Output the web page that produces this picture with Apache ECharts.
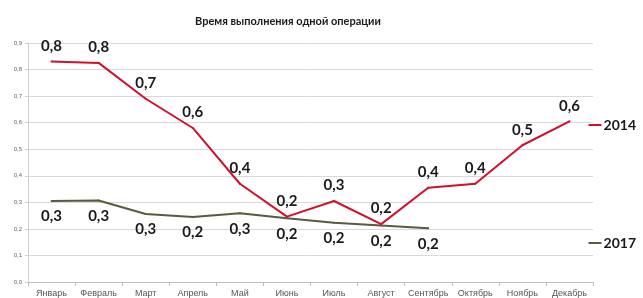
<!DOCTYPE html>
<html><head><meta charset="utf-8">
<script src="https://cdn.jsdelivr.net/npm/echarts@6/dist/echarts.min.js"></script>
<style>html,body{margin:0;padding:0;background:#fff}#c{width:643px;height:298px}</style>
</head><body><div id="c"></div>
<script>
const categories = ['Январь','Февраль','Март','Апрель','Май','Июнь','Июль','Август','Сентябрь','Октябрь','Ноябрь','Декабрь'];
const values2014 = [0.83, 0.825, 0.69, 0.58, 0.37, 0.246, 0.305, 0.218, 0.355, 0.37, 0.515, 0.605];
const values2017 = [0.305, 0.307, 0.256, 0.245, 0.259, 0.24, 0.223, 0.213, 0.202];
const yTicks = [0, 0.1, 0.2, 0.3, 0.4, 0.5, 0.6, 0.7, 0.8, 0.9];
const title = 'Время выполнения одной операции';

const fmt = v => (Math.round(v * 10) / 10).toFixed(1).replace('.', ',');
const labelStyle = {fontFamily: 'Lato', fontWeight: 'bold', fontSize: 15, color: '#1a1a1a'};

const chart = echarts.init(document.getElementById('c'));
chart.setOption({
  animation: false,
  title: {text: title, left: 283, textAlign: 'center', top: 11,
    textStyle: {fontFamily: 'Lato', fontWeight: 'bold', fontSize: 11, color: '#1a1a1a'}},
  grid: {left: 28, right: 50, top: 43, bottom: 16, containLabel: false},
  legend: [
    {data: ['2014'], right: 2, top: 113, itemWidth: 13, itemHeight: 2, itemGap: 2,
      icon: 'rect', textStyle: {fontFamily: 'Lato', fontWeight: 'bold', fontSize: 14, color: '#1a1a1a', padding: [0,0,0,-3]}},
    {data: ['2017'], right: 2, top: 231, itemWidth: 13, itemHeight: 2, itemGap: 2,
      icon: 'rect', textStyle: {fontFamily: 'Lato', fontWeight: 'bold', fontSize: 14, color: '#1a1a1a', padding: [0,0,0,-3]}}
  ],
  xAxis: {type: 'category', data: categories, boundaryGap: true,
    axisLine: {lineStyle: {color: '#bdbdbd'}},
    axisTick: {show: true, length: 4, lineStyle: {color: '#bdbdbd'}},
    axisLabel: {fontFamily: 'Liberation Sans', fontSize: 9, color: '#555', margin: 7, interval: 0}},
  yAxis: {type: 'value', min: 0, max: 0.9, interval: 0.1,
    axisLine: {show: true, lineStyle: {color: '#cfcfcf'}},
    axisTick: {show: true, length: 3, lineStyle: {color: '#cfcfcf'}},
    splitLine: {lineStyle: {color: '#d9d9d9'}},
    axisLabel: {fontFamily: 'Liberation Sans', fontSize: 6, color: '#666', margin: 6,
      formatter: v => yTicks.includes(Math.round(v*10)/10) ? v.toFixed(1).replace('.', ',') : ''}},
  series: [
    {name: '2014', type: 'line', data: values2014, symbol: 'circle', symbolSize: 2, showSymbol: true,
      lineStyle: {color: '#d2102c', width: 2}, itemStyle: {color: '#d2102c'},
      label: {show: true, position: 'top', distance: 7, formatter: p => fmt(p.value), ...labelStyle}},
    {name: '2017', type: 'line', data: values2017, symbol: 'circle', symbolSize: 2, showSymbol: true,
      lineStyle: {color: '#5a5a3c', width: 2}, itemStyle: {color: '#5a5a3c'},
      label: {show: true, position: 'bottom', distance: 7, formatter: p => fmt(p.value), ...labelStyle}}
  ]
});
</script></body></html>
